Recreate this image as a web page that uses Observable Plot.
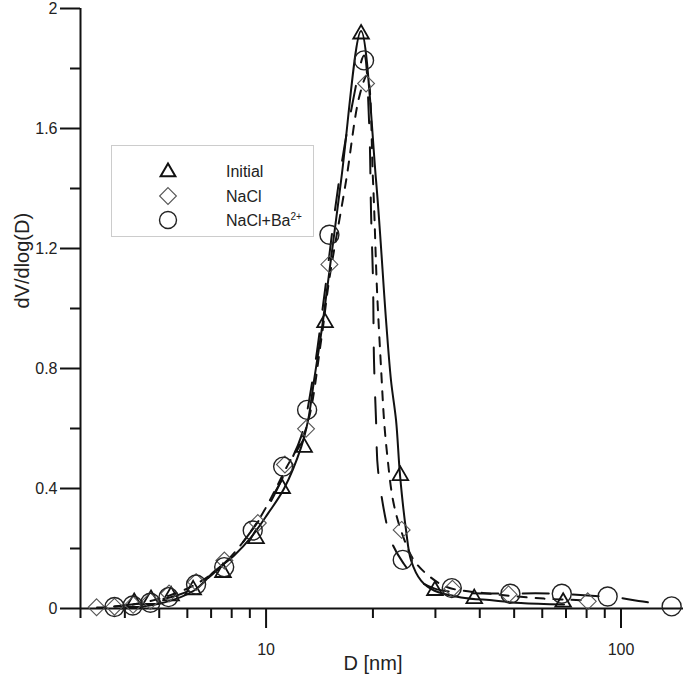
<!DOCTYPE html>
<html>
<head>
<meta charset="utf-8">
<script src="https://cdn.jsdelivr.net/npm/d3@7"></script>
<script src="https://cdn.jsdelivr.net/npm/@observablehq/plot@0.6"></script>
<style>
  html, body { margin: 0; padding: 0; background: #fff; }
  #wrap { position: relative; width: 685px; height: 685px; font-family: "Liberation Sans", Arial, sans-serif; }
  #legend { position: absolute; left: 111px; top: 145px; }
</style>
</head>
<body>
<div id="wrap"></div>
<script>
// ---- tick values / labels ----
const xTicksMajor = [10, 100];
const xTickLabels = ["10", "100"];
const xTicksMinor = [3, 4, 5, 6, 7, 8, 9, 20, 30, 40, 50, 60, 70, 80, 90];
const yTicksMajor = [0, 0.4, 0.8, 1.2, 1.6, 2];
const yTickLabels = ["0", "0.4", "0.8", "1.2", "1.6", "2"];
const yTicksMinor = [0.2, 0.6, 1.0, 1.4, 1.8];

// ---- series names ----
const seriesNames = ["Initial", "NaCl", "NaCl+Ba"];

// ---- markers: Initial (triangles) ----
const initialD = [4.25, 4.74, 5.4, 6.23, 7.56, 9.37, 11.1, 12.8, 14.66, 18.52, 23.9, 29.9, 38.6, 68.7];
const initialV = [0.02, 0.03, 0.042, 0.062, 0.12, 0.233, 0.40, 0.537, 0.953, 1.915, 0.443, 0.06, 0.033, 0.021];

// ---- markers: NaCl (diamonds) ----
const naclD = [3.33, 3.74, 4.22, 4.72, 5.33, 6.35, 7.63, 9.48, 11.3, 12.96, 15.08, 19.13, 24.1, 33.5, 48.2, 80.6];
const naclV = [0.004, 0.006, 0.012, 0.025, 0.05, 0.088, 0.16, 0.285, 0.48, 0.599, 1.147, 1.75, 0.262, 0.066, 0.047, 0.024];

// ---- markers: NaCl+Ba2+ (circles) ----
const bariumD = [3.74, 4.21, 4.72, 5.31, 6.35, 7.62, 9.17, 11.17, 13.05, 15.08, 18.88, 24.27, 33.36, 48.8, 68.1, 91.7, 138.9];
const bariumV = [0.005, 0.01, 0.019, 0.038, 0.08, 0.138, 0.26, 0.473, 0.662, 1.246, 1.827, 0.162, 0.068, 0.049, 0.049, 0.04, 0.007];

// ---- fitted curves ----
const initialCurveD = [3.9, 5.06, 6.27, 7.14, 8.13, 9.07, 10.13, 11.24, 12.55, 13.13, 13.65, 14.47, 16.27, 18.52, 20.41, 21.78, 22.49, 23.24, 23.85, 24.8, 25.62, 27.33, 29.73, 35.43, 43.88, 52.28, 69.1];
const initialCurveV = [0, 0.017, 0.06, 0.123, 0.177, 0.237, 0.317, 0.40, 0.537, 0.627, 0.76, 0.96, 1.427, 1.925, 1.427, 0.96, 0.76, 0.627, 0.443, 0.26, 0.16, 0.093, 0.06, 0.037, 0.027, 0.018, 0.013];

const naclCurveD = [3.34, 4.22, 5.33, 6.39, 7.62, 9.43, 11.38, 12.96, 14.29, 15.05, 16.81, 18.28, 19.25, 20.01, 20.54, 21.08, 21.5, 21.92, 22.79, 24.0, 26.12, 29.16, 32.57, 42.2, 60.7, 80.7];
const naclCurveV = [0.003, 0.013, 0.043, 0.083, 0.15, 0.287, 0.467, 0.60, 0.893, 1.093, 1.427, 1.703, 1.777, 1.427, 1.06, 0.803, 0.627, 0.517, 0.36, 0.26, 0.16, 0.103, 0.07, 0.05, 0.033, 0.027];

const bariumCurveD = [3.73, 4.74, 6.15, 7.87, 9.07, 10.2, 11.38, 12.55, 13.65, 14.47, 16.06, 17.36, 18.88, 19.5, 19.76, 20.01, 20.14, 20.41, 20.68, 22.07, 22.79, 24.31, 26.46, 29.73, 35.43, 43.04, 63.5, 80.7, 96.8, 115.3, 138.3];
const bariumCurveV = [0.007, 0.023, 0.063, 0.167, 0.257, 0.347, 0.46, 0.573, 0.793, 1.01, 1.427, 1.66, 1.843, 1.627, 1.317, 1.093, 0.827, 0.627, 0.46, 0.26, 0.21, 0.153, 0.10, 0.067, 0.053, 0.05, 0.05, 0.043, 0.037, 0.023, 0.01];

const rows = (D, V) => D.map((d, i) => ({D: d, v: V[i]}));

const plot = Plot.plot({
  width: 685,
  height: 685,
  marginLeft: 80,
  marginRight: 2,
  marginTop: 8,
  marginBottom: 77,
  x: {type: "log", domain: [3, 150], label: null},
  y: {domain: [0, 2], label: null},
  style: {fontFamily: "'Liberation Sans', Arial, sans-serif", fontSize: "16px", color: "#222", background: "#fff", overflow: "visible"},
  marks: [
    Plot.axisX(xTicksMinor, {tickSize: 10, strokeWidth: 2, stroke: "#111", tickFormat: () => "", label: null}),
    Plot.axisX(xTicksMajor, {tickSize: 20, strokeWidth: 2, stroke: "#111", tickPadding: 15, fontSize: 16, tickFormat: d => xTickLabels[xTicksMajor.indexOf(d)], label: null}),
    Plot.axisY(yTicksMinor, {tickSize: 10, strokeWidth: 2, stroke: "#111", tickFormat: () => "", label: null}),
    Plot.axisY(yTicksMajor, {tickSize: 20, strokeWidth: 2, stroke: "#111", tickPadding: 3, fontSize: 16, tickFormat: d => yTickLabels[yTicksMajor.indexOf(d)], label: null}),
    Plot.ruleX([3], {strokeWidth: 2, stroke: "#111"}),
    Plot.ruleY([0], {strokeWidth: 2, stroke: "#111"}),
    Plot.line(rows(initialCurveD, initialCurveV), {x: "D", y: "v", curve: "catmull-rom", stroke: "#111", strokeWidth: 2}),
    Plot.line(rows(naclCurveD, naclCurveV), {x: "D", y: "v", curve: "catmull-rom", stroke: "#111", strokeWidth: 2, strokeDasharray: "9,9"}),
    Plot.line(rows(bariumCurveD, bariumCurveV), {x: "D", y: "v", curve: "catmull-rom", stroke: "#111", strokeWidth: 2, strokeDasharray: "26,24"}),
    Plot.dot(rows(initialD, initialV), {x: "D", y: "v", symbol: "triangle", r: 5.8, stroke: "#111", strokeWidth: 1.8, fill: "none"}),
    Plot.dot(rows(naclD, naclV), {x: "D", y: "v", symbol: "diamond2", r: 7.6, stroke: "#555", strokeWidth: 1.1, fill: "none"}),
    Plot.dot(rows(bariumD, bariumV), {x: "D", y: "v", symbol: "circle", r: 9.5, stroke: "#222", strokeWidth: 1.4, fill: "none"}),
    Plot.text(["dV/dlog(D)"], {frameAnchor: "left", dx: -58, rotate: -90, fontSize: 20, fill: "#222"}),
    Plot.text(["D [nm]"], {frameAnchor: "bottom", dx: -9, dy: 61, fontSize: 20, fill: "#222"})
  ]
});

const wrap = document.getElementById("wrap");
wrap.appendChild(plot);

// ---- legend ----
const lg = d3.select(wrap).append("svg")
  .attr("id", "legend").attr("width", 204).attr("height", 93)
  .style("font-family", "'Liberation Sans', Arial, sans-serif");
lg.append("rect").attr("x", 0.5).attr("y", 0.5).attr("width", 202).attr("height", 91)
  .attr("fill", "#fff").attr("stroke", "#999").attr("stroke-dasharray", "1,1");
const sym = [
  {type: d3.symbolTriangle, size: 95, y: 27, stroke: "#111", w: 2},
  {type: d3.symbolDiamond2, size: 180, y: 51, stroke: "#555", w: 1.1},
  {type: d3.symbolCircle, size: Math.PI * 8.5 * 8.5, y: 75, stroke: "#222", w: 1.4}
];
sym.forEach(s => {
  lg.append("path").attr("d", d3.symbol(s.type, s.size)())
    .attr("transform", `translate(57,${s.y})`)
    .attr("fill", "none").attr("stroke", s.stroke).attr("stroke-width", s.w);
});
const labels = [{t: seriesNames[0], y: 32}, {t: seriesNames[1], y: 57}, {t: seriesNames[2], y: 81}];
labels.forEach((l, i) => {
  const t = lg.append("text").attr("x", 115).attr("y", l.y).attr("font-size", 16).attr("fill", "#222").text(l.t);
  if (i === 2) t.append("tspan").attr("dy", -6).attr("font-size", 10).text("2+");
});
</script>
</body>
</html>
